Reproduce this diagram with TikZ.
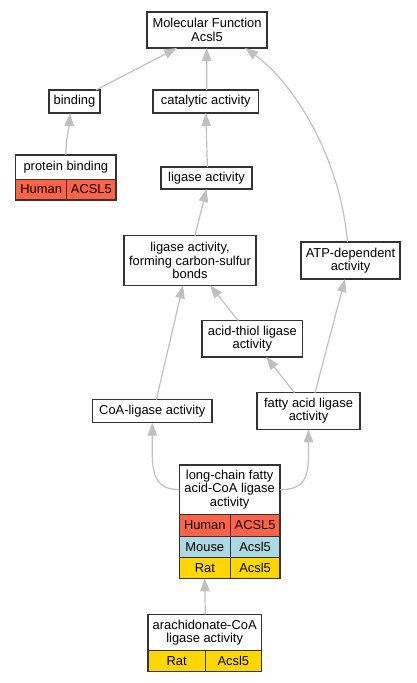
\documentclass[tikz,border=0pt]{standalone}
\usepackage{fontspec}
\setmainfont{Liberation Sans}
\usetikzlibrary{arrows.meta}
\definecolor{human}{HTML}{FF6347}
\definecolor{mouse}{HTML}{ADD8E6}
\definecolor{rat}{HTML}{FFD700}
\definecolor{edgegray}{HTML}{C0C0C0}
\definecolor{bordercol}{HTML}{333333}
\begin{document}
\begin{tikzpicture}[x=1pt,y=-1pt,
  lbl/.style={inner sep=0pt, outer sep=0pt, align=center, font=\fontsize{12.9}{13.3}\selectfont},
  box/.style={lbl, draw=bordercol, line width=1.3pt, fill=white},
  cell/.style={lbl, draw=bordercol, line width=0.9pt},
  frame/.style={draw=bordercol, line width=1.3pt},
  edge/.style={draw=edgegray, line width=1.2pt, -{Triangle[length=13pt,width=9.5pt]}, fill=none}]
\useasboundingbox (0,0) rectangle (416,683);

% simple nodes
\node[box, minimum width=120pt, minimum height=36pt] (mf) at (207,30) {Molecular Function\\Acsl5};
\node[box, minimum width=51pt, minimum height=23pt] (bind) at (74.5,101.5) {binding};
\node[box, minimum width=105.7pt, minimum height=23pt] (cat) at (205.8,101.5) {catalytic activity};
\node[box, minimum width=91pt, minimum height=22pt] (lig) at (206.5,178) {ligase activity};
\node[box, minimum width=132pt, minimum height=49.6pt] (lafcs) at (190,260.5) {ligase activity,\\forming carbon-sulfur\\bonds};
\node[box, minimum width=99pt, minimum height=37pt] (atp) at (350.5,260.5) {ATP-dependent\\activity};
\node[box, minimum width=100.7pt, minimum height=36.3pt] (ath) at (252.3,338.8) {acid-thiol ligase\\activity};
\node[box, minimum width=119.3pt, minimum height=23pt] (coa) at (152.3,411.2) {CoA-ligase activity};
\node[box, minimum width=103pt, minimum height=36.6pt] (fal) at (308.5,411) {fatty acid ligase\\activity};

% protein binding table
\node[cell, fill=white, minimum width=100.3pt, minimum height=24pt] (pbt) at (65.85,167) {protein binding};
\node[cell, fill=human, minimum width=51pt, minimum height=21pt] (pbh) at (41.2,189.5) {Human};
\node[cell, fill=human, minimum width=49.3pt, minimum height=21pt] (pbg) at (91.35,189.5) {ACSL5};
\draw[frame] (pbt.north west) rectangle (pbg.south east);

% long-chain table
\node[cell, fill=white, minimum width=100.7pt, minimum height=49.3pt] (lct) at (229.65,489.65) {long-chain fatty\\acid-CoA ligase\\activity};
\node[cell, fill=human, minimum width=51pt, minimum height=21.7pt] (lch) at (204.8,525.15) {Human};
\node[cell, fill=human, minimum width=49.7pt, minimum height=21.7pt] (lchg) at (255.15,525.15) {ACSL5};
\node[cell, fill=mouse, minimum width=51pt, minimum height=21.3pt] (lcm) at (204.8,546.65) {Mouse};
\node[cell, fill=mouse, minimum width=49.7pt, minimum height=21.3pt] (lcmg) at (255.15,546.65) {Acsl5};
\node[cell, fill=rat, minimum width=51pt, minimum height=21pt] (lcr) at (204.8,567.8) {Rat};
\node[cell, fill=rat, minimum width=49.7pt, minimum height=21pt] (lcrg) at (255.15,567.8) {Acsl5};
\draw[frame] (lct.north west) rectangle (lcrg.south east);

% arachidonate table
\node[cell, fill=white, minimum width=113.3pt, minimum height=36.4pt] (art) at (204.65,632.5) {arachidonate-CoA\\ligase activity};
\node[cell, fill=rat, minimum width=57.3pt, minimum height=21pt] (arr) at (176.65,661.2) {Rat};
\node[cell, fill=rat, minimum width=56pt, minimum height=21pt] (arg) at (233.3,661.2) {Acsl5};
\draw[frame] (art.north west) rectangle (arg.south east);

% edges
\draw[edge] ([xshift=-4pt]bind.north east) -- ([xshift=-30pt]mf.south);
\draw[edge] ([xshift=1pt]cat.north) -- ([xshift=-0.3pt]mf.south);
\draw[edge] ([xshift=-3pt]atp.north) .. controls +(-8,-90) and +(45,32) .. ([xshift=38pt]mf.south);
\draw[edge] (pbt.north) .. controls +(0,-18) and +(-1,16) .. ([xshift=-4.5pt]bind.south);
\draw[edge] ([xshift=0.9pt]lig.north) -- (cat.south);
\draw[edge] ([xshift=5pt]lafcs.north) -- (lig.south);
\draw[edge] ([xshift=-14pt]ath.north) -- ([xshift=20pt]lafcs.south);
\draw[edge] ([xshift=4pt]coa.north) -- ([xshift=-7pt]lafcs.south);
\draw[edge] ([xshift=-14pt]fal.north) -- ([xshift=14pt]ath.south);
\draw[edge] ([xshift=6.5pt]fal.north) -- ([xshift=-5.5pt]atp.south);
\draw[edge] (lct.west) .. controls +(-30,0) and +(0,42) .. (coa.south);
\draw[edge] (lct.east) .. controls +(30,0) and +(0,42) .. (fal.south);
\draw[edge] ([xshift=0.6pt]art.north) -- (lcr.south);
\end{tikzpicture}
\end{document}
